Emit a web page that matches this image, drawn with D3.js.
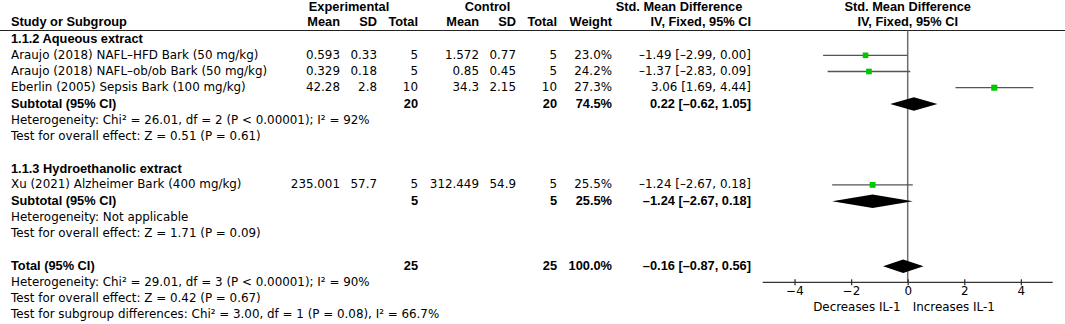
<!DOCTYPE html>
<html><head><meta charset="utf-8">
<script src="https://cdn.jsdelivr.net/npm/d3@7"></script>
<style>
html,body{margin:0;padding:0;background:#fff;}
svg text{font-family:"DejaVu Sans",sans-serif;font-size:11.9px;fill:#000;}
svg text.b{font-family:"Liberation Sans",Arial,sans-serif;font-weight:bold;font-size:12.8px;}
</style></head>
<body><svg id="c" width="1065" height="324"></svg>
<script>
// ---- data ----
const studies = ["Araujo (2018) NAFL\u2013HFD Bark (50 mg/kg)", "Araujo (2018) NAFL\u2013ob/ob Bark (50 mg/kg)", "Eberlin (2005) Sepsis Bark (100 mg/kg)", "Xu (2021) Alzheimer Bark (400 mg/kg)"];
const studyGroup = [0, 0, 0, 1];
const expMean = [0.593, 0.329, 42.28, 235.001];
const expSD = [0.33, 0.18, 2.8, 57.7];
const expN = [5, 5, 10, 5];
const ctlMean = [1.572, 0.85, 34.3, 312.449];
const ctlSD = [0.77, 0.45, 2.15, 54.9];
const ctlN = [5, 5, 10, 5];
const weights = [23.0, 24.2, 27.3, 25.5];
const smd = [-1.49, -1.37, 3.06, -1.24];
const lo = [-2.99, -2.83, 1.69, -2.67];
const hi = [0.00, 0.09, 4.44, 0.18];

const groups = ["1.1.2 Aqueous extract", "1.1.3 Hydroethanolic extract"];
const groupExpN = [20, 5];
const groupCtlN = [20, 5];
const groupWeight = [74.5, 25.5];
const groupSmd = [0.22, -1.24];
const groupLo = [-0.62, -2.67];
const groupHi = [1.05, 0.18];
const groupHet = ["Heterogeneity: Chi\u00b2 = 26.01, df = 2 (P < 0.00001); I\u00b2 = 92%", "Heterogeneity: Not applicable"];
const groupTest = ["Test for overall effect: Z = 0.51 (P = 0.61)", "Test for overall effect: Z = 1.71 (P = 0.09)"];

const totalN = [25, 25];
const totalWeight = 100.0;
const totalSmd = -0.16, totalLo = -0.87, totalHi = 0.56;
const totalLines = ["Heterogeneity: Chi\u00b2 = 29.01, df = 3 (P < 0.00001); I\u00b2 = 90%", "Test for overall effect: Z = 0.42 (P = 0.67)", "Test for subgroup differences: Chi\u00b2 = 3.00, df = 1 (P = 0.08), I\u00b2 = 66.7%"];

const axisTicks = [-4, -2, 0, 2, 4];
const axisLabels = ["Decreases IL-1", "Increases IL-1"];

// ---- layout ----
const svg = d3.select("#c");
const f2 = v => d3.format(".2f")(v).replace("-", "\u2013").replace("\u2212", "\u2013");
const ci = (m, l, h) => `${f2(m)} [${f2(l)}, ${f2(h)}]`;
const rowY = i => 38.5 + i * 16.2;
const col = {name: 11, eM: 340, eSD: 377, eN: 418, cM: 479, cSD: 516, cN: 557, w: 612, ci: 751};
const x = d3.scaleLinear().domain([-5.125, 5.125]).range([762.7, 1052.7]);

function txt(xx, yy, s, anchor, bold) {
  return svg.append("text").attr("x", xx).attr("y", yy).attr("dy", "0.35em")
    .attr("text-anchor", anchor || "start").classed("b", !!bold).text(s);
}

// headers
const h1 = 6.8, h2 = 21.8;
txt(349, h1, "Experimental", "middle", true);
txt(487.5, h1, "Control", "middle", true);
txt(679, h1, "Std. Mean Difference", "middle", true);
txt(x(0), h1, "Std. Mean Difference", "middle", true);
txt(col.name, h2, "Study or Subgroup", "start", true);
[["Mean", col.eM], ["SD", col.eSD], ["Total", col.eN], ["Mean", col.cM], ["SD", col.cSD], ["Total", col.cN], ["Weight", col.w], ["IV, Fixed, 95% CI", col.ci]]
  .forEach(d => txt(d[1], h2, d[0], "end", true));
txt(x(0), h2, "IV, Fixed, 95% CI", "middle", true);
svg.append("line").attr("x1", 0).attr("x2", 1065).attr("y1", 30.5).attr("y2", 30.5).attr("stroke", "#222").attr("stroke-width", 1.2);

// zero line
svg.append("line").attr("x1", x(0)).attr("x2", x(0)).attr("y1", 30.5).attr("y2", 282.3).attr("stroke", "#6e6e6e").attr("stroke-width", 1.5);

const groupStart = [0, 8];
const sqScale = d3.scaleSqrt().domain([0, 100]).range([0, 11.6]);

function diamond(yc, l, m, h) {
  const hh = 6.7;
  svg.append("path").attr("d", `M${x(l)},${yc}L${x(m)},${yc - hh}L${x(h)},${yc}L${x(m)},${yc + hh}Z`).attr("fill", "#000");
}

groups.forEach((g, gi) => {
  const r0 = groupStart[gi];
  txt(col.name, rowY(r0), g, "start", true);
  const idx = studies.map((s, i) => i).filter(i => studyGroup[i] === gi);
  idx.forEach((i, k) => {
    const y = rowY(r0 + 1 + k);
    txt(col.name, y, studies[i]);
    txt(col.eM, y, String(expMean[i]), "end");
    txt(col.eSD, y, String(expSD[i]), "end");
    txt(col.eN, y, String(expN[i]), "end");
    txt(col.cM, y, String(ctlMean[i]), "end");
    txt(col.cSD, y, String(ctlSD[i]), "end");
    txt(col.cN, y, String(ctlN[i]), "end");
    txt(col.w, y, d3.format(".1f")(weights[i]) + "%", "end");
    txt(col.ci, y, ci(smd[i], lo[i], hi[i]), "end");
    const yg = y + 0.6;
    svg.append("line").attr("x1", x(lo[i])).attr("x2", x(hi[i])).attr("y1", yg).attr("y2", yg).attr("stroke", "#555").attr("stroke-width", 1.3);
    const s = sqScale(weights[i]);
    svg.append("rect").attr("x", x(smd[i]) - s / 2).attr("y", yg - s / 2).attr("width", s).attr("height", s).attr("fill", "#00c800");
  });
  const ys = rowY(r0 + 1 + idx.length);
  txt(col.name, ys, "Subtotal (95% CI)", "start", true);
  txt(col.eN, ys, String(groupExpN[gi]), "end", true);
  txt(col.cN, ys, String(groupCtlN[gi]), "end", true);
  txt(col.w, ys, d3.format(".1f")(groupWeight[gi]) + "%", "end", true);
  txt(col.ci, ys, ci(groupSmd[gi], groupLo[gi], groupHi[gi]), "end", true);
  diamond(ys + 0.7, groupLo[gi], groupSmd[gi], groupHi[gi]);
  txt(col.name, rowY(r0 + 2 + idx.length), groupHet[gi]);
  txt(col.name, rowY(r0 + 3 + idx.length), groupTest[gi]);
});

const yt = rowY(14);
txt(col.name, yt, "Total (95% CI)", "start", true);
txt(col.eN, yt, String(totalN[0]), "end", true);
txt(col.cN, yt, String(totalN[1]), "end", true);
txt(col.w, yt, d3.format(".1f")(totalWeight) + "%", "end", true);
txt(col.ci, yt, ci(totalSmd, totalLo, totalHi), "end", true);
diamond(yt + 1, totalLo, totalSmd, totalHi);
totalLines.forEach((s, k) => txt(col.name, rowY(15 + k), s));

// axis
const ax = svg.append("g").attr("transform", "translate(0,282.3)")
  .call(d3.axisBottom(x).tickValues(axisTicks).tickSize(3).tickPadding(1.5).tickFormat(d3.format("d")));
ax.select(".domain").attr("stroke", "#333").attr("stroke-width", 1.3).attr("d", `M${x.range()[0]},0H${x.range()[1]}`);
ax.selectAll(".tick line").attr("y1", -3).attr("stroke", "#333").attr("stroke-width", 1.3);
ax.selectAll(".tick text").style("font-family", "DejaVu Sans").style("font-size", "11.9px").attr("fill", "#000");
txt(x(0) - 7, 307, axisLabels[0], "end");
txt(x(0) + 5, 307, axisLabels[1], "start");
</script></body></html>
